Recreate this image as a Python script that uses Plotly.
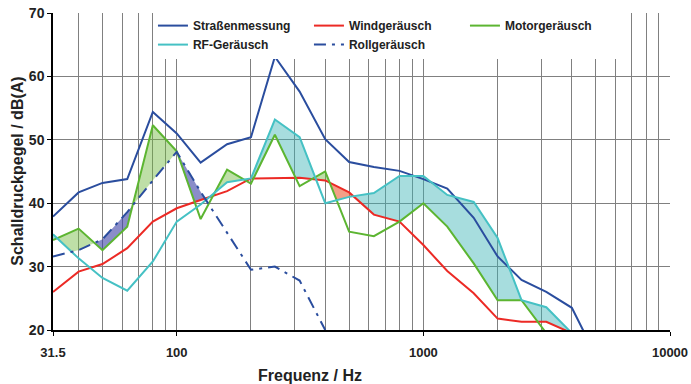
import numpy as np
import plotly.graph_objects as go

# third-octave band centre frequencies (Hz)
freq = [31.5, 40, 50, 63, 80, 100, 125, 160, 200, 250, 315, 400, 500,
        630, 800, 1000, 1250, 1600, 2000, 2500, 3150, 4000, 5000]

strasse = [37.9, 41.7, 43.2, 43.8, 54.4, 51.0, 46.4, 49.3, 50.4, 63.1, 57.6, 50.1, 46.5,
           45.7, 45.1, 43.8, 42.3, 37.7, 31.6, 27.9, 26.0, 23.5, 16.0]
wind = [26.0, 29.2, 30.4, 32.9, 37.1, 39.2, 40.5, 41.9, 43.9, 44.0, 44.0, 43.6, 41.7,
        38.2, 37.1, 33.4, 29.3, 25.8, 21.8, 21.3, 21.3, 19.5, None]
motor = [34.2, 36.0, 32.6, 36.3, 52.3, 48.2, 37.5, 45.3, 43.1, 50.8, 42.7, 45.0, 35.5,
         34.8, 37.1, 40.0, 36.3, 30.5, 24.7, 24.7, 19.5, None, None]
rf = [35.1, 31.3, 28.2, 26.2, 30.8, 37.1, 39.8, 43.3, 43.9, 53.2, 50.4, 40.0, 41.0,
      41.6, 44.3, 44.3, 41.3, 40.2, 34.5, 24.7, 23.6, 19.5, None]
roll = [31.6, 32.6, 34.3, 38.6, 43.6, 48.1, 41.8, 35.3, 29.5, 30.0, 27.8, 20.0, None,
        None, None, None, None, None, None, None, None, None, None]

x_tickvals = [31.5, 100, 1000, 10000]
x_ticktext = ["31.5", "100", "1000", "10000"]
x_minor = [40, 50, 60, 70, 80, 90, 200, 300, 400, 500, 600, 700, 800, 900,
           2000, 3000, 4000, 5000, 6000, 7000, 8000, 9000]

C_BLUE = "#2a4d9e"
C_RED = "#ec2a25"
C_GREEN = "#5cb531"
C_CYAN = "#45c1c4"

FONT = "Liberation Sans, Arial, sans-serif"

sources = [
    ("Windgeräusch", wind, "rgba(235,95,55,0.6)"),
    ("Motorgeräusch", motor, "rgba(110,185,60,0.45)"),
    ("RF-Geräusch", rf, "rgba(60,180,182,0.45)"),
    ("Rollgeräusch", roll, "rgba(60,65,165,0.6)"),
]

fig = go.Figure()

# ---- fills: area between the dominant source and the next one ----
lf = np.log10(freq)
g = np.linspace(lf[0], lf[-1], 4000)
vals = []
for _, s, _ in sources:
    arr = np.array([np.nan if v is None else v for v in s], float)
    vals.append(np.interp(g, lf, arr))
V = np.array(vals)
Vf = np.where(np.isnan(V), -np.inf, V)
order = np.argsort(-Vf, axis=0)
top_i = order[0]
sec_i = order[1]
cols = np.arange(len(g))
top_v = Vf[top_i, cols]
sec_v = Vf[sec_i, cols]
valid = np.isfinite(top_v) & np.isfinite(sec_v)

runs = []
start = None
for k in range(len(g)):
    if valid[k]:
        if start is None:
            start = k
        elif top_i[k] != top_i[start]:
            runs.append((start, k))
            start = k
    else:
        if start is not None:
            runs.append((start, k))
            start = None
if start is not None:
    runs.append((start, len(g)))

for a, b in runs:
    if b - a < 2:
        continue
    b2 = min(b + 1, len(g)) if valid[min(b, len(g) - 1)] else b
    xs = 10 ** g[a:b2]
    yt = Vf[top_i[a], a:b2]
    ys = sec_v[a:b2]
    px = np.concatenate([xs, xs[::-1]])
    py = np.concatenate([yt, ys[::-1]])
    fig.add_trace(go.Scatter(x=px, y=py, fill="toself", mode="none",
                             fillcolor=sources[top_i[a]][2], showlegend=False,
                             hoverinfo="skip"))

# ---- lines ----
fig.add_trace(go.Scatter(x=freq, y=strasse, name="Straßenmessung", mode="lines",
                         line=dict(color=C_BLUE, width=2)))
fig.add_trace(go.Scatter(x=freq, y=wind, name="Windgeräusch", mode="lines",
                         line=dict(color=C_RED, width=2)))
fig.add_trace(go.Scatter(x=freq, y=motor, name="Motorgeräusch", mode="lines",
                         line=dict(color=C_GREEN, width=2)))
fig.add_trace(go.Scatter(x=freq, y=rf, name="RF-Geräusch", mode="lines",
                         line=dict(color=C_CYAN, width=2)))
fig.add_trace(go.Scatter(x=freq, y=roll, name="Rollgeräusch", mode="lines",
                         line=dict(color=C_BLUE, width=2, dash="12px,6px,3px,6px")))

GRID = "#808080"
fig.update_layout(
    width=691, height=384,
    margin=dict(l=53, r=21, t=13, b=54, autoexpand=False),
    paper_bgcolor="white", plot_bgcolor="white",
    font=dict(family=FONT, color="#222222"),
    legend=dict(orientation="h", x=0.162, y=1.006, xanchor="left", yanchor="top",
                bgcolor="white", borderwidth=0, entrywidth=111, entrywidthmode="pixels",
                font=dict(family=FONT, size=12, weight="bold", color="#222222"),
                itemclick=False, tracegroupgap=0),
    xaxis=dict(type="log", range=[np.log10(31.5), 4.0], automargin=False,
               tickmode="array", tickvals=x_tickvals, ticktext=x_ticktext,
               showgrid=True, gridcolor=GRID, gridwidth=1,
               minor=dict(tickmode="array", tickvals=x_minor, showgrid=True,
                          gridcolor=GRID, gridwidth=1, ticks=""),
               showline=True, linecolor="black", linewidth=1.5,
               ticks="outside", ticklen=4, tickcolor="black",
               ticklabelstandoff=6, ticklabeloverflow="allow",
               tickfont=dict(family=FONT, size=13, weight="bold", color="#222222"),
               zeroline=False),
    yaxis=dict(range=[20, 70], tickmode="linear", tick0=20, dtick=10, automargin=False,
               showgrid=True, gridcolor=GRID, gridwidth=1,
               showline=True, linecolor="black", linewidth=1.5,
               ticks="outside", ticklen=4, tickcolor="black",
               ticklabeloverflow="allow",
               tickfont=dict(family=FONT, size=14, weight="bold", color="#222222"),
               zeroline=False),
    annotations=[
        dict(text="Frequenz / Hz", xref="paper", yref="paper", x=0.4165, y=-0.142,
             xanchor="center", yanchor="middle", showarrow=False,
             font=dict(family=FONT, size=16, weight="bold", color="#222222")),
        dict(text="Schalldruckpegel / dB(A)", xref="paper", yref="paper", x=-0.058, y=0.5,
             xanchor="center", yanchor="middle", textangle=-90, showarrow=False,
             font=dict(family=FONT, size=16, weight="bold", color="#222222")),
    ],
)

# remove the browser's default 8px body margin so the figure sits at the page origin
fig.write_html("out.html",
               config={"displayModeBar": False},
               post_script="document.body.style.margin='0';document.body.style.overflow='hidden';")
